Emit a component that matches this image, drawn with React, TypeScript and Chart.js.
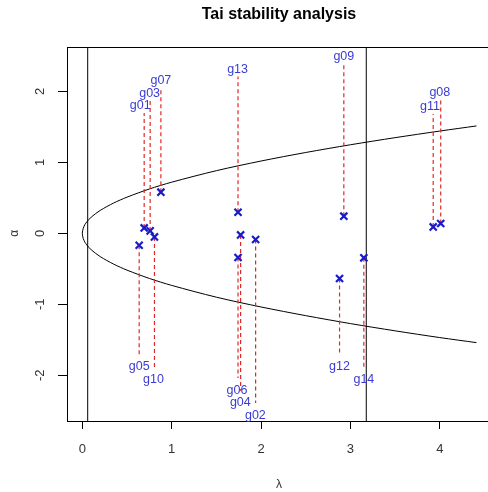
import React, { useEffect, useRef } from "react";
import { Chart, registerables } from "chart.js";

Chart.register(...registerables);

// Genotype names
const genotypes = ["g01", "g02", "g03", "g04", "g05", "g06", "g07", "g08", "g09", "g10", "g11", "g12", "g13", "g14"];
// lambda (x) and alpha (y) of each genotype
const lambdaValues = [0.692, 1.939, 0.759, 1.771, 0.636, 1.742, 0.879, 4.01, 2.926, 0.807, 3.926, 2.878, 1.742, 3.15];
const alphaValues = [0.076, -0.087, 0.034, -0.023, -0.168, -0.341, 0.579, 0.138, 0.241, -0.051, 0.09, -0.637, 0.297, -0.346];
// label anchor positions (data units)
const labelLambda = [0.648, 1.936, 0.753, 1.768, 0.636, 1.731, 0.879, 4.0, 2.926, 0.796, 3.89, 2.878, 1.737, 3.15];
const labelAlpha = [1.794, -2.562, 1.969, -2.389, -1.882, -2.21, 2.146, 1.977, 2.485, -2.055, 1.78, -1.872, 2.307, -2.055];

// Confidence curve
const curveLambda = [0, 0.01, 0.03, 0.05, 0.1, 0.2, 0.35, 0.5, 0.75, 1, 1.5, 2, 2.5, 3, 3.5, 4, 4.41];
const curveUpper = [0, 0.07, 0.125, 0.16, 0.228, 0.322, 0.426, 0.509, 0.624, 0.72, 0.882, 1.018, 1.138, 1.247, 1.347, 1.44, 1.512];
const curveLower = [0, -0.073, -0.128, -0.164, -0.233, -0.328, -0.434, -0.519, -0.636, -0.734, -0.9, -1.038, -1.16, -1.272, -1.374, -1.469, -1.54];

// Vertical reference lines (lambda)
const refLambda = [0.06, 3.177];

const X_MIN = -0.1715;
const X_MAX = 4.548;
const Y_MIN = -2.644;
const Y_MAX = 2.624;

const FONT = "'Liberation Sans', Arial, sans-serif";

export default function App() {
  const canvasRef = useRef<HTMLCanvasElement | null>(null);

  useEffect(() => {
    const canvas = canvasRef.current;
    if (!canvas) return;

    const datasets: any[] = [];
    datasets.push({
      type: "scatter",
      data: lambdaValues.map((x, i) => ({ x, y: alphaValues[i] })),
      pointStyle: "crossRot",
      pointRadius: 5,
      pointBorderWidth: 2.2,
      borderColor: "#1a1ac8",
      backgroundColor: "#1a1ac8",
      showLine: false,
    });
    genotypes.forEach((g, i) => {
      const top = labelAlpha[i] > 0;
      const end = top ? labelAlpha[i] - 0.1 : labelAlpha[i] + 0.17;
      datasets.push({
        type: "line",
        data: [
          { x: lambdaValues[i], y: alphaValues[i] },
          { x: lambdaValues[i], y: end },
        ],
        borderColor: "#e02828",
        borderWidth: 1.2,
        borderDash: [4, 3],
        pointRadius: 0,
        fill: false,
      });
    });
    const curveData = [
      ...curveLambda.slice(1).map((x, i) => ({ x, y: curveLower[i + 1] })).reverse(),
      ...curveLambda.map((x, i) => ({ x, y: curveUpper[i] })),
    ];
    datasets.push({
      type: "line",
      data: curveData,
      borderColor: "#000",
      borderWidth: 1,
      pointRadius: 0,
      tension: 0.3,
      fill: false,
    });
    refLambda.forEach((v) => {
      datasets.push({
        type: "line",
        data: [
          { x: v, y: Y_MIN - 1 },
          { x: v, y: Y_MAX + 1 },
        ],
        borderColor: "#000",
        borderWidth: 1,
        pointRadius: 0,
        fill: false,
      });
    });

    const overlay = {
      id: "overlay",
      afterDraw(chart: any) {
        const ctx = chart.ctx as CanvasRenderingContext2D;
        const xs = chart.scales.x;
        const ys = chart.scales.y;
        const { left, right, top } = chart.chartArea;
        ctx.save();
        ctx.strokeStyle = "#000";
        ctx.lineWidth = 1;
        ctx.beginPath();
        ctx.moveTo(left, Math.round(top) + 0.5);
        ctx.lineTo(right, Math.round(top) + 0.5);
        ctx.stroke();

        ctx.fillStyle = "#000";
        ctx.font = `bold 16px ${FONT}`;
        ctx.textAlign = "center";
        ctx.textBaseline = "middle";
        ctx.fillText("Tai stability analysis", 279, 15);

        ctx.font = `13px ${FONT}`;
        ctx.fillStyle = "#333";
        xs.ticks.forEach((t: any) => {
          ctx.fillText(String(t.value), xs.getPixelForValue(t.value), 449);
        });
        ys.ticks.forEach((t: any) => {
          ctx.save();
          ctx.translate(40, ys.getPixelForValue(t.value));
          ctx.rotate(-Math.PI / 2);
          ctx.fillText(String(t.value), 0, 0);
          ctx.restore();
        });
        ctx.font = `12px ${FONT}`;
        ctx.fillText("λ", 279, 485);
        ctx.save();
        ctx.translate(15, ys.getPixelForValue(0));
        ctx.rotate(-Math.PI / 2);
        ctx.fillText("α", 0, 0);
        ctx.restore();

        ctx.font = `12.5px ${FONT}`;
        ctx.fillStyle = "#3a3ad4";
        genotypes.forEach((g, i) => {
          ctx.fillText(g, xs.getPixelForValue(labelLambda[i]), ys.getPixelForValue(labelAlpha[i]));
        });
        ctx.restore();
      },
    };

    const chart = new Chart(canvas, {
      type: "scatter",
      data: { datasets },
      options: {
        animation: false,
        responsive: false,
        layout: { padding: { top: 47, left: 0, right: 0, bottom: 0 } },
        plugins: { legend: { display: false }, tooltip: { enabled: false }, title: { display: false } },
        scales: {
          x: {
            type: "linear",
            min: X_MIN,
            max: X_MAX,
            ticks: { stepSize: 1, includeBounds: false, display: false },
            grid: { drawOnChartArea: false, drawTicks: true, tickLength: 8, color: "#000", tickColor: "#000" },
            border: { display: true, color: "#000", width: 1 },
            afterFit: (s: any) => {
              s.height = 71;
            },
          },
          y: {
            type: "linear",
            min: Y_MIN,
            max: Y_MAX,
            ticks: { stepSize: 1, includeBounds: false, display: false },
            grid: { drawOnChartArea: false, drawTicks: true, tickLength: 9, color: "#000", tickColor: "#000" },
            border: { display: true, color: "#000", width: 1 },
            afterFit: (s: any) => {
              s.width = 67;
            },
          },
        },
      },
      plugins: [overlay],
    } as any);

    return () => chart.destroy();
  }, []);

  return (
    <div style={{ position: "fixed", left: 0, top: 0, width: 488, height: 492, overflow: "hidden", background: "#fff" }}>
      <canvas ref={canvasRef} width={496} height={492} style={{ display: "block" }} />
    </div>
  );
}
